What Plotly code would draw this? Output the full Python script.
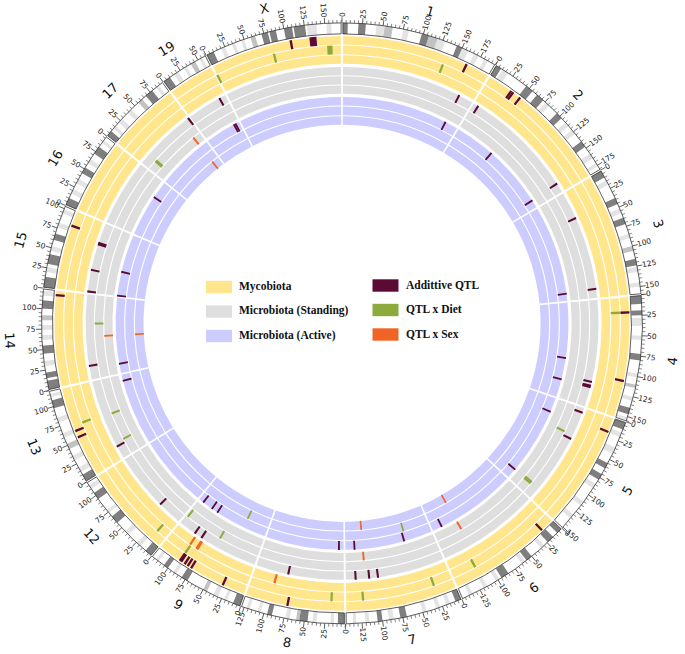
import math
import plotly.graph_objects as go

W, H = 685, 654

# ---------------- data ----------------
CHROMS = ["1", "2", "3", "4", "5", "6", "7", "8", "9", "12", "13", "14", "15", "16", "17", "19", "X"]
CHROM_LEN = [195.47, 182.11, 160.04, 156.51, 151.83, 149.74, 145.44, 129.40, 124.60,
             120.13, 120.42, 124.90, 104.04, 98.21, 94.99, 61.43, 171.03]

# cytobands: (start Mb, end Mb, shade 1=light 2=mid 3=dark)
BANDS_1 = [(0, 7, 3), (20, 29, 3), (42, 52, 1), (52, 62, 2), (75, 82, 1), (98, 107, 3), (107, 118, 2),
           (118, 128, 1), (143, 150, 3), (150, 158, 1), (166, 172, 1), (180, 185, 1)]
BANDS_2 = [(0, 8, 3), (10, 18, 1), (45, 55, 3), (62, 72, 3), (76, 82, 1), (95, 103, 3), (110, 116, 1),
           (122, 128, 1), (140, 148, 3), (158, 165, 1), (172, 176, 1)]
BANDS_3 = [(0, 10, 3), (14, 20, 1), (38, 46, 3), (52, 58, 1), (64, 72, 3), (85, 90, 1), (100, 106, 2),
           (116, 124, 3), (126, 132, 1), (145, 150, 1)]
BANDS_4 = [(0, 11, 3), (19, 25, 3), (28, 38, 1), (50, 55, 1), (72, 80, 3), (96, 101, 1), (110, 114, 2),
           (125, 130, 1), (139, 147, 3), (151, 154, 1)]
BANDS_5 = [(0, 10, 3), (14, 20, 1), (34, 42, 1), (55, 62, 3), (70, 78, 3), (84, 90, 1), (110, 116, 1),
           (130, 136, 1)]
BANDS_6 = [(0, 8, 3), (15, 24, 3), (30, 35, 1), (50, 58, 3), (60, 65, 1), (85, 95, 3), (98, 103, 1),
           (115, 120, 1), (135, 140, 1)]
BANDS_7 = [(0, 8, 3), (15, 20, 1), (28, 33, 1), (45, 50, 1), (70, 78, 3), (86, 92, 1), (100, 106, 3),
           (116, 121, 1), (132, 136, 1)]
BANDS_8 = [(0, 9, 3), (14, 18, 1), (35, 40, 1), (46, 56, 3), (56, 60, 2), (68, 73, 1), (90, 96, 3),
           (104, 108, 1), (118, 122, 1)]
BANDS_9 = [(0, 10, 3), (18, 22, 1), (30, 36, 1), (45, 50, 2), (72, 80, 3), (88, 92, 1), (100, 106, 3),
           (114, 118, 1)]
BANDS_12 = [(0, 10, 3), (18, 24, 1), (38, 44, 1), (58, 68, 3), (74, 78, 1), (95, 104, 3), (110, 115, 1)]
BANDS_13 = [(0, 10, 3), (14, 20, 1), (30, 36, 1), (45, 52, 2), (60, 66, 1), (80, 86, 1), (98, 108, 3),
            (112, 116, 1)]
BANDS_14 = [(0, 12, 3), (15, 22, 3), (30, 36, 1), (45, 55, 3), (62, 68, 1), (74, 80, 1), (86, 92, 2),
            (100, 110, 3), (116, 122, 1)]
BANDS_15 = [(0, 14, 3), (20, 26, 1), (30, 42, 3), (46, 52, 1), (60, 68, 3), (76, 82, 1), (94, 99, 1)]
BANDS_16 = [(0, 10, 3), (16, 22, 1), (30, 36, 1), (44, 52, 3), (58, 64, 1), (72, 82, 3), (88, 92, 1)]
BANDS_17 = [(0, 8, 3), (12, 16, 1), (22, 28, 1), (38, 44, 1), (56, 62, 2), (68, 78, 3), (84, 88, 1)]
BANDS_19 = [(0, 10, 3), (16, 22, 1), (30, 34, 1), (40, 46, 2), (52, 56, 1)]
BANDS_X = [(0, 10, 3), (20, 25, 1), (34, 38, 1), (46, 50, 1), (58, 64, 2), (72, 80, 3), (82, 90, 3),
           (100, 110, 3), (112, 126, 3), (128, 140, 1), (152, 158, 1)]
BANDS = [BANDS_1, BANDS_2, BANDS_3, BANDS_4, BANDS_5, BANDS_6, BANDS_7, BANDS_8, BANDS_9,
         BANDS_12, BANDS_13, BANDS_14, BANDS_15, BANDS_16, BANDS_17, BANDS_19, BANDS_X]
SHADE_COLORS = {1: "#e4e4e4", 2: "#c2c2c2", 3: "#7f7f7f"}

TRACK_NAMES = ["Mycobiota", "Microbiota (Standing)", "Microbiota (Active)"]
TRACK_COLORS = ["#FFE68C", "#DEDEDE", "#CCCCFF"]
QTL_NAMES = ["Addittive QTL", "QTL x Diet", "QTL x Sex"]
QTL_TYPES = ["A", "D", "S"]
QTL_COLORS = ["#5A0A34", "#8DAA3C", "#F06428"]

# QTL marks: (chromosome, position Mb, width Mb, sub-ring 0=inner..2=outer, type)
MYCO_QTL = [
    ("X", 134, 9, 2, "A"), ("X", 155, 7, 1, "D"), ("1", 135.4, 3, 1, "D"), ("1", 163.4, 3, 2, "A"),
    ("2", 34, 3, 2, "A"), ("2", 37, 3, 2, "A"), ("2", 48, 3, 2, "A"), ("4", 21, 3, 1, "D"),
    ("4", 21, 3, 2, "A"), ("4", 108.5, 3, 2, "A"), ("5", 19.5, 3, 2, "A"), ("6", 19, 3, 2, "A"),
    ("6", 116.8, 3, 1, "D"), ("7", 26.6, 3, 1, "D"), ("7", 121.7, 3, 1, "D"), ("8", 17.8, 3, 1, "D"),
    ("8", 73.7, 3, 2, "A"), ("8", 96.8, 3, 0, "S"), ("9", 30.5, 3, 2, "A"), ("9", 94, 3, 0, "S"),
    ("9", 83, 4.5, 0, "S"), ("9", 93, 3, 1, "D"), ("9", 92, 5, 2, "A"), ("9", 85.6, 3, 2, "A"),
    ("9", 81, 3, 2, "A"), ("9", 76, 3, 2, "A"), ("12", 15, 3, 1, "D"), ("13", 54, 3, 2, "A"),
    ("13", 62.6, 3, 2, "A"), ("13", 69.5, 3, 1, "D"), ("14", 118, 3, 2, "A"), ("15", 83.6, 3, 2, "A"),
    ("X", 1.5, 3, 1, "D"), ("X", 80.8, 3, 1, "D"), ("X", 105.6, 3, 2, "A"),
]
STANDING_QTL = [
    ("1", 173, 3, 2, "A"), ("2", 8.5, 3, 2, "A"), ("2", 167, 3, 2, "A"), ("3", 40.8, 3, 2, "A"),
    ("3", 145.6, 3, 2, "A"), ("4", 119, 3, 2, "A"), ("4", 125.5, 5, 2, "A"), ("5", 8, 3, 2, "A"),
    ("5", 43, 3, 1, "D"), ("5", 48.7, 3, 2, "A"), ("5", 132, 3, 1, "D"), ("5", 134.8, 3, 1, "D"),
    ("6", 107.7, 3, 0, "S"), ("7", 98, 3, 2, "A"), ("7", 110.6, 3, 2, "A"), ("7", 116, 3, 0, "S"),
    ("7", 130, 3, 2, "A"), ("8", 81, 3, 2, "A"), ("9", 62.7, 3, 1, "D"), ("9", 86, 3, 2, "A"),
    ("9", 97.4, 3, 2, "A"), ("9", 120, 3, 1, "D"), ("12", 37, 3, 2, "A"), ("13", 20, 3, 2, "A"),
    ("13", 25.5, 3, 1, "D"), ("13", 66.5, 3, 1, "D"), ("14", 21.2, 3, 2, "A"), ("14", 62.9, 3, 0, "S"),
    ("14", 81.8, 3, 1, "D"), ("15", 2.7, 3, 2, "A"), ("15", 33.8, 3, 2, "A"), ("15", 72.5, 5, 2, "A"),
    ("17", 16.6, 5, 1, "D"), ("17", 81.5, 3, 0, "S"), ("17", 93, 3, 2, "A"), ("19", 50.8, 3, 2, "A"),
]
ACTIVE_QTL = [
    ("1", 173, 3, 2, "A"), ("2", 67, 3, 2, "A"), ("2", 168, 3, 2, "A"), ("3", 147, 3, 2, "A"),
    ("4", 91, 3, 2, "A"), ("4", 126, 3, 2, "A"), ("5", 24.5, 3, 2, "A"), ("5", 134, 3, 2, "A"),
    ("6", 107.7, 3, 0, "S"), ("6", 133, 3, 2, "A"), ("7", 44.6, 3, 1, "D"), ("7", 48, 3, 2, "A"),
    ("7", 115.5, 3, 0, "S"), ("7", 129.2, 3, 2, "A"), ("8", 9, 3, 2, "A"), ("9", 38.6, 3, 1, "D"),
    ("9", 87, 3, 2, "A"), ("9", 97.6, 3, 2, "A"), ("9", 114.9, 3, 2, "A"), ("13", 108.9, 3, 2, "A"),
    ("14", 16.7, 3, 2, "A"), ("14", 62.9, 3, 0, "S"), ("15", 2, 3, 2, "A"), ("15", 40.9, 3, 2, "A"),
    ("16", 68.6, 3, 2, "A"), ("17", 81, 3, 0, "S"), ("19", 51, 3, 2, "A"), ("19", 54, 3, 2, "A"),
]
TRACK_QTL = [MYCO_QTL, STANDING_QTL, ACTIVE_QTL]

# ---------------- geometry (pixels) ----------------
CX, CY = 342.0, 323.4
RMAX = 323.0
TRACK_R = [(259.0, 288.0), (229.0, 257.0), (198.0, 227.0)]
IDEO_R = (289.5, 300.5)
TRACK_GAP_DEG = 0.45
IDEO_GAP_DEG = 0.35

TOTAL = sum(CHROM_LEN)
OFFSETS = []
acc = 0.0
for L in CHROM_LEN:
    OFFSETS.append(acc)
    acc += L
DEG_PER_MB = 360.0 / TOTAL
CIDX = {c: i for i, c in enumerate(CHROMS)}


def ang(ci, pos):
    return (OFFSETS[ci] + pos) * DEG_PER_MB


def to_paper(rx, ry, th):
    t = math.radians(th)
    x = CX + rx * math.sin(t)
    y = CY - ry * math.cos(t)
    return x / W, 1 - y / H


fig = go.Figure()

# ---- track backgrounds (3 sub-rings each) ----
for ti, (r0, r1) in enumerate(TRACK_R):
    sub_h = (r1 - r0) / 3.0
    th, wd, base, rr = [], [], [], []
    for s in range(3):
        for ci, L in enumerate(CHROM_LEN):
            th.append(ang(ci, L / 2))
            wd.append(L * DEG_PER_MB - TRACK_GAP_DEG)
            base.append(r0 + s * sub_h + 0.55)
            rr.append(sub_h - 1.1)
    fig.add_trace(go.Barpolar(theta=th, width=wd, base=base, r=rr,
                              marker=dict(color=TRACK_COLORS[ti], line=dict(width=0)),
                              hoverinfo="skip", showlegend=False))

# ---- ideogram ----
ith, iwd = [], []
for ci, L in enumerate(CHROM_LEN):
    ith.append(ang(ci, L / 2))
    iwd.append(L * DEG_PER_MB - IDEO_GAP_DEG)
fig.add_trace(go.Barpolar(theta=ith, width=iwd, base=[IDEO_R[0]] * len(ith),
                          r=[IDEO_R[1] - IDEO_R[0]] * len(ith),
                          marker=dict(color="white", line=dict(width=0)),
                          hoverinfo="skip", showlegend=False))
half_gap_mb = IDEO_GAP_DEG / 2 / DEG_PER_MB
for shade in (1, 2, 3):
    th, wd = [], []
    for ci, bands in enumerate(BANDS):
        L = CHROM_LEN[ci]
        for (s, e, sh) in bands:
            if sh != shade:
                continue
            s2 = max(s, half_gap_mb)
            e2 = min(e, L - half_gap_mb)
            if e2 <= s2:
                continue
            th.append(ang(ci, (s2 + e2) / 2))
            wd.append((e2 - s2) * DEG_PER_MB)
    fig.add_trace(go.Barpolar(theta=th, width=wd, base=[IDEO_R[0]] * len(th),
                              r=[IDEO_R[1] - IDEO_R[0]] * len(th),
                              marker=dict(color=SHADE_COLORS[shade], line=dict(width=0)),
                              hoverinfo="skip", showlegend=False))
fig.add_trace(go.Barpolar(theta=ith, width=iwd, base=[IDEO_R[0]] * len(ith),
                          r=[IDEO_R[1] - IDEO_R[0]] * len(ith),
                          marker=dict(color="rgba(0,0,0,0)", line=dict(width=0.8, color="#333333")),
                          hoverinfo="skip", showlegend=False))

# ---- ticks ----
for step, length, wdt in ((5, 3.0, 0.6), (25, 5.5, 0.8)):
    tr, tt = [], []
    for ci, L in enumerate(CHROM_LEN):
        p = 0
        while p < L:
            if step == 25 or p % 25 != 0:
                t = ang(ci, p)
                tr += [IDEO_R[1], IDEO_R[1] + length, None]
                tt += [t, t, None]
            p += step
    fig.add_trace(go.Scatterpolar(r=tr, theta=tt, mode="lines",
                                  line=dict(color="#333333", width=wdt),
                                  hoverinfo="skip", showlegend=False))

# ---- QTL marks ----
for qi, qt in enumerate(QTL_TYPES):
    th, wd, base, rr = [], [], [], []
    for ti, marks in enumerate(TRACK_QTL):
        r0, r1 = TRACK_R[ti]
        sub_h = (r1 - r0) / 3.0
        for (c, pos, w, sub, typ) in marks:
            if typ != qt:
                continue
            th.append(ang(CIDX[c], pos))
            wd.append(w * DEG_PER_MB)
            base.append(r0 + sub * sub_h + 0.3)
            rr.append(sub_h - 0.6)
    fig.add_trace(go.Barpolar(theta=th, width=wd, base=base, r=rr,
                              marker=dict(color=QTL_COLORS[qi], line=dict(width=0)),
                              hoverinfo="skip", showlegend=False))

annotations = []
# ---- tick labels ----
TL_R0, CHAR_W = 306.0, 4.6
for ci, L in enumerate(CHROM_LEN):
    p = 0
    while p < L:
        t = ang(ci, p)
        txt = str(p)
        rc = TL_R0 + len(txt) * CHAR_W / 2
        x, y = to_paper(rc, rc, t)
        a = t - 90 if t < 180 else t - 270
        annotations.append(dict(x=x, y=y, xref="paper", yref="paper", text=txt, showarrow=False,
                                textangle=a, xanchor="center", yanchor="middle",
                                font=dict(family="DejaVu Sans", size=7.5, color="#222222")))
        p += 25

# ---- chromosome labels ----
for ci, L in enumerate(CHROM_LEN):
    t = ang(ci, L / 2)
    x, y = to_paper(333.0, 323.5, t)
    a = t if (t < 90 or t >= 270) else t - 180
    if a > 180:
        a -= 360
    annotations.append(dict(x=x, y=y, xref="paper", yref="paper", text=CHROMS[ci], showarrow=False,
                            textangle=a, xanchor="center", yanchor="middle",
                            font=dict(family="DejaVu Sans", size=13, color="#111111")))

# ---- legend (centre) ----
shapes = []
LEG_X = [206, 372.5]
LEG_Y = [287, 311.5, 336]
for col, (names, colors) in enumerate(((TRACK_NAMES, TRACK_COLORS), (QTL_NAMES, QTL_COLORS))):
    for k, (nm, colr) in enumerate(zip(names, colors)):
        x0 = LEG_X[col]
        yc = LEG_Y[k] - (1.5 if col == 1 else 0)
        shapes.append(dict(type="rect", xref="paper", yref="paper",
                           x0=x0 / W, x1=(x0 + 26) / W, y0=1 - (yc + 6.2) / H, y1=1 - (yc - 6.2) / H,
                           fillcolor=colr, line=dict(width=0)))
        annotations.append(dict(x=(x0 + 31) / W, y=1 - (yc - 1) / H, xref="paper", yref="paper",
                                text="<b>" + nm + "</b>", showarrow=False, xanchor="left",
                                yanchor="middle",
                                font=dict(family="Liberation Serif", size=11.5, color="#111111")))

fig.update_layout(
    width=W, height=H, margin=dict(l=0, r=0, t=0, b=0),
    paper_bgcolor="white", plot_bgcolor="white", hovermode=False,
    polar=dict(
        domain=dict(x=[(CX - RMAX) / W, (CX + RMAX) / W], y=[1 - (CY + RMAX) / H, 1 - (CY - RMAX) / H]),
        bgcolor="white", barmode="overlay", bargap=0,
        radialaxis=dict(range=[0, RMAX], visible=False),
        angularaxis=dict(rotation=90, direction="clockwise", visible=False),
    ),
    annotations=annotations, shapes=shapes,
)

fig.write_html("out.html", config={"displayModeBar": False},
               post_script="document.body.style.margin='0px';document.body.style.overflow='hidden';")
